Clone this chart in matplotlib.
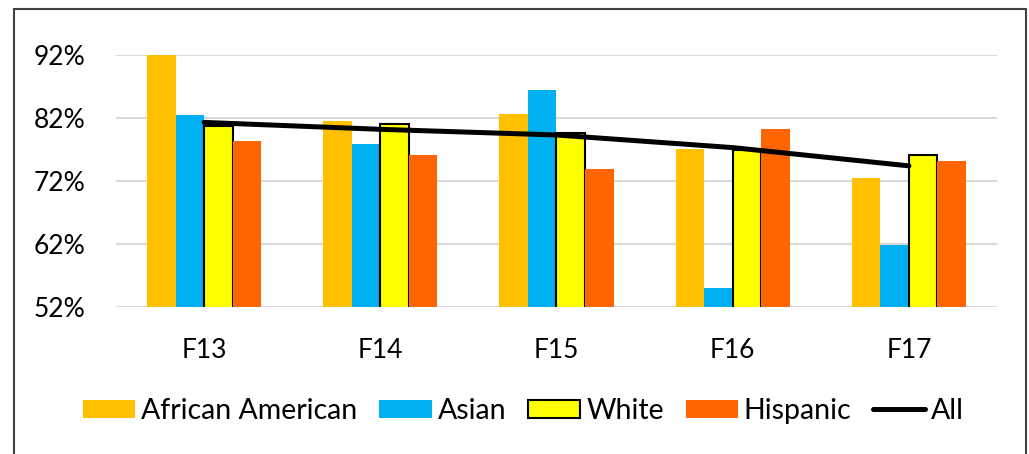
import matplotlib.pyplot as plt
from matplotlib.patches import Rectangle
import numpy as np

plt.rcParams['font.family'] = ['Lato', 'DejaVu Sans']

years = ['F13', 'F14', 'F15', 'F16', 'F17']
african_american = [92.0, 81.6, 82.7, 77.1, 72.4]
asian = [82.5, 77.8, 86.5, 55.0, 61.9]
white = [80.7, 81.0, 79.6, 76.9, 76.1]
hispanic = [78.3, 76.2, 73.9, 80.2, 75.1]
all_students = [81.3, 80.2, 79.3, 77.3, 74.4]
yticks = [52, 62, 72, 82, 92]

fig = plt.figure(figsize=(10.29, 4.54), dpi=100)
ax = fig.add_axes([0.1127, 0.3238, 0.8562, 0.5551])

x = np.arange(len(years))
w = 0.162
ax.bar(x - 1.5 * w, african_american, w, color='#FFC000', label='African American', zorder=2)
ax.bar(x - 0.5 * w, asian, w, color='#00B0F0', label='Asian', zorder=2)
ax.bar(x + 0.5 * w, white, w, color='#FFFF00', edgecolor='black', linewidth=1.5,
       label='White', zorder=2)
ax.bar(x + 1.5 * w, hispanic, w, color='#FF6600', label='Hispanic', zorder=2)
ax.plot(x, all_students, color='black', linewidth=3.6, solid_capstyle='round',
        label='All', zorder=3)

ax.set_xlim(-0.5, len(years) - 0.5)
ax.set_ylim(52, 92)
ax.set_yticks(yticks)
ax.set_yticklabels([f'{v}%' for v in yticks])
ax.set_xticks(x)
ax.set_xticklabels(years)
ax.yaxis.grid(True, color='#d9d9d9', linewidth=1.5, zorder=0)
ax.set_axisbelow(True)
for s in ax.spines.values():
    s.set_visible(False)
ax.tick_params(axis='both', length=0, labelsize=19)
ax.tick_params(axis='y', pad=22)
ax.tick_params(axis='x', pad=22)

# bars first, line last in the legend
handles, labels = ax.get_legend_handles_labels()
handles = handles[1:] + handles[:1]
labels = labels[1:] + labels[:1]
fig.legend(handles, labels, loc='center', bbox_to_anchor=(0.509, 0.095), ncol=5,
           frameon=False, fontsize=20.5, handlelength=1.83, handleheight=0.63,
           handletextpad=0.21, columnspacing=0.77)

# outer chart border
fig.patches.append(Rectangle((14 / 1029, -0.05), 1012 / 1029, 1.05 - 9 / 454,
                             transform=fig.transFigure, fill=False,
                             edgecolor='#404040', linewidth=1.5))

fig.savefig('out.png', dpi=100)
